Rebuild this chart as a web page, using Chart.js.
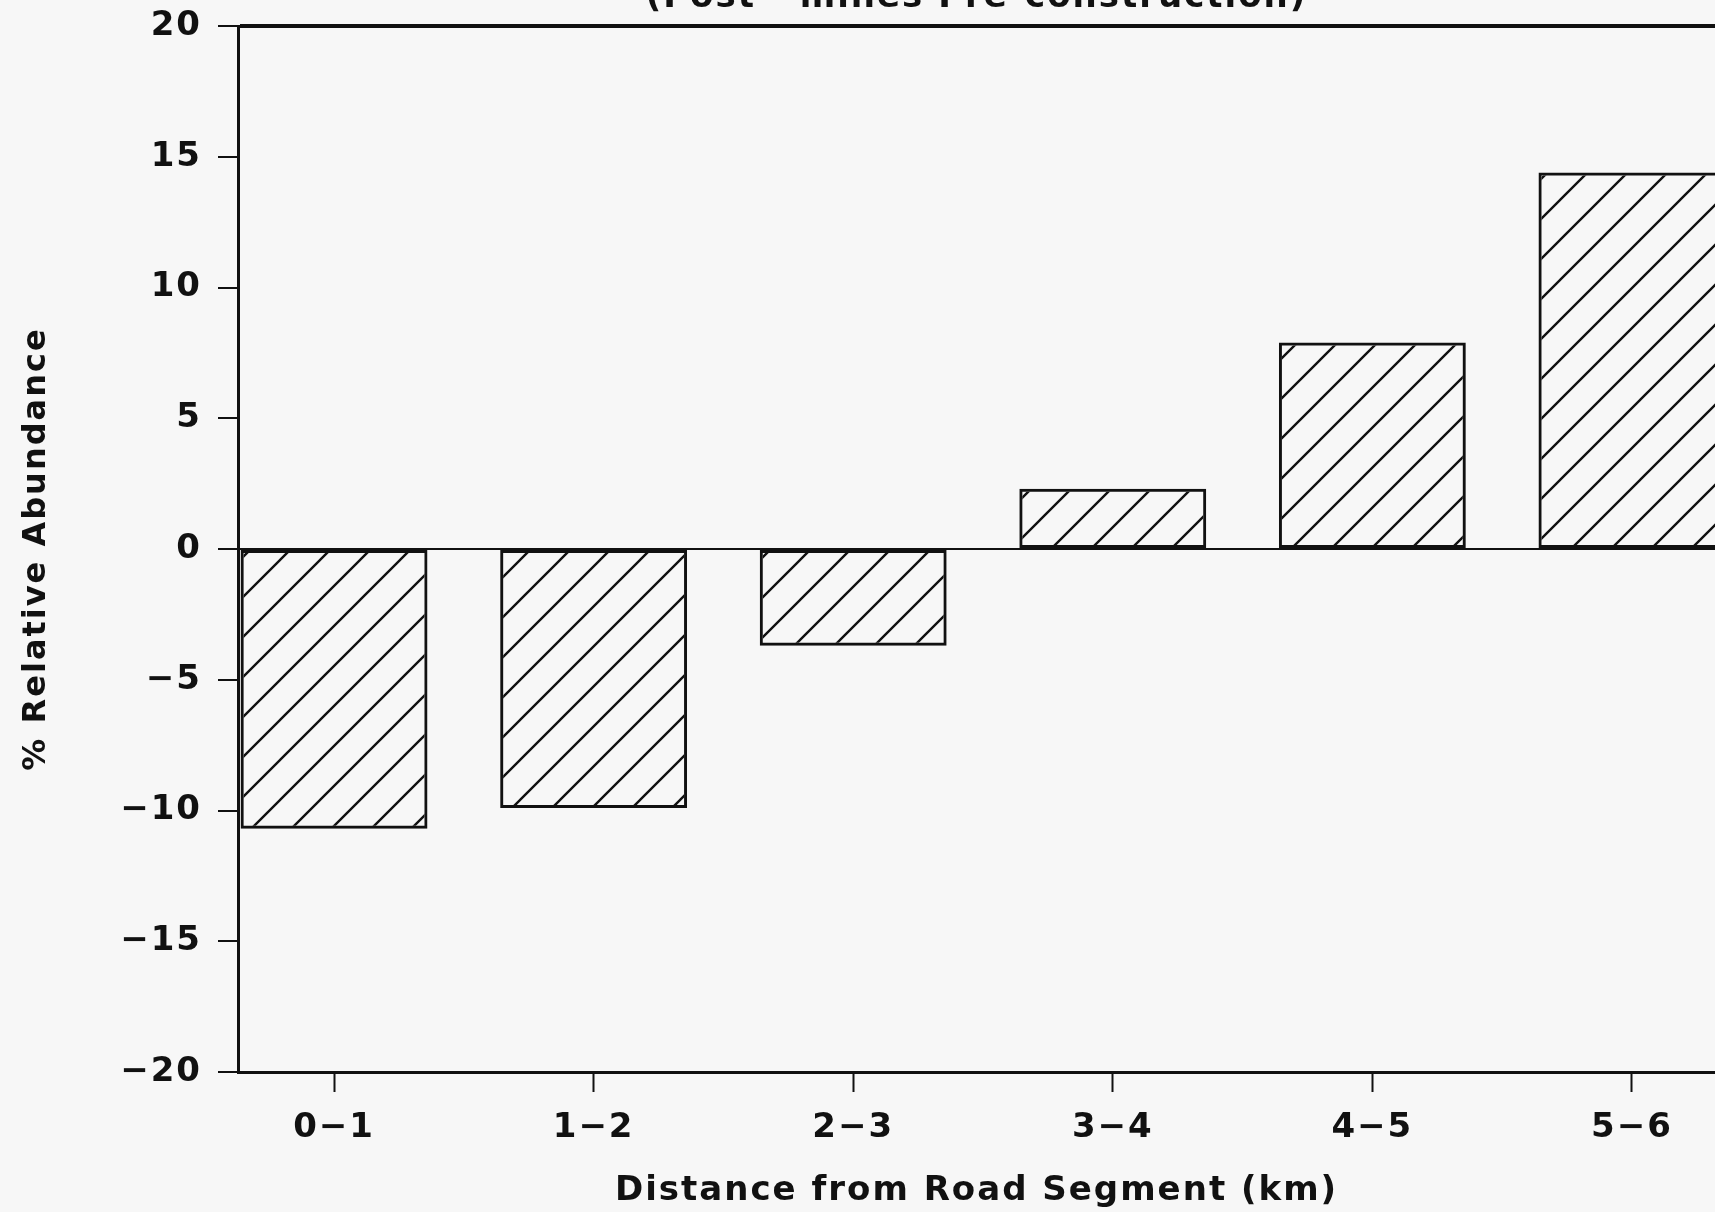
<!DOCTYPE html>
<html>
<head>
<meta charset="utf-8">
<script src="https://cdn.jsdelivr.net/npm/chart.js@4.4.1/dist/chart.umd.min.js"></script>
<style>
  body { margin: 0; background: #f7f7f7; overflow: hidden; }
  canvas { display: block; }
</style>
</head>
<body>
<canvas id="myChart" width="1715" height="1212"></canvas>
<script>
// data
const categories = ["0\u22121", "1\u22122", "2\u22123", "3\u22124", "4\u22125", "5\u22126"];
const abundance = [-10.7, -9.9, -3.7, 2.3, 7.9, 14.4];
const yTicks = [-20, -15, -10, -5, 0, 5, 10, 15, 20];
const titleText = "(Post - mines Pre-construction)";

// diagonal hatching like the original plot
function makeHatch() {
  const s = 40;
  const c = document.createElement("canvas");
  c.width = s;
  c.height = s;
  const g = c.getContext("2d");
  g.strokeStyle = "#111";
  g.lineWidth = 2.4;
  g.beginPath();
  g.moveTo(-5, s + 5); g.lineTo(s + 5, -5);
  g.moveTo(-5, 5); g.lineTo(5, -5);
  g.moveTo(s - 5, s + 5); g.lineTo(s + 5, s - 5);
  g.stroke();
  return g.createPattern(c, "repeat");
}

// the old plotter font is wide, so space the letters a bit
const spacing = {
  id: "spacing",
  beforeInit(chart) { chart.ctx.letterSpacing = "2px"; },
  beforeLayout(chart) { chart.ctx.letterSpacing = "2px"; },
  beforeDraw(chart) { chart.ctx.letterSpacing = "2px"; }
};

// title sits mostly above the cropped scan
const cutTitle = {
  id: "cutTitle",
  afterDraw(chart) {
    const { ctx, chartArea } = chart;
    ctx.save();
    ctx.font = "bold 34px 'DejaVu Sans'";
    ctx.fillStyle = "#111";
    ctx.textAlign = "center";
    ctx.textBaseline = "alphabetic";
    ctx.fillText(titleText, (chartArea.left + chartArea.right) / 2, 7);
    ctx.restore();
  }
};

const ctx = document.getElementById("myChart").getContext("2d");
new Chart(ctx, {
  type: "bar",
  data: {
    datasets: [
      {
        data: abundance.map((v, i) => ({ x: i + 0.5, y: v })),
        backgroundColor: makeHatch(),
        borderColor: "#111",
        borderWidth: 3,
        borderSkipped: false,
        categoryPercentage: 0.72,
        barPercentage: 1
      }
    ]
  },
  options: {
    responsive: false,
    animation: false,
    layout: { padding: { top: 26, right: 0, left: 0, bottom: 0 } },
    plugins: { legend: { display: false }, tooltip: { enabled: false } },
    scales: {
      x: {
        type: "linear",
        min: 0.13,
        max: 5.82,
        offset: false,
        afterBuildTicks: (scale) => {
          scale.ticks = categories.map((c, i) => ({ value: i + 0.5 }));
        },
        afterFit: (scale) => {
          scale.height = 140;
          scale.paddingLeft = 0;
          scale.paddingRight = 0;
        },
        grid: {
          offset: false,
          drawOnChartArea: false,
          drawTicks: true,
          tickLength: 20,
          tickColor: "#111",
          tickWidth: 2
        },
        border: { color: "#111", width: 3 },
        ticks: {
          color: "#111",
          padding: 16,
          maxRotation: 0,
          autoSkip: false,
          font: { family: "DejaVu Sans", size: 34, weight: "bold" },
          callback: (v, i) => categories[i]
        },
        title: {
          display: true,
          text: "Distance from Road Segment (km)",
          color: "#111",
          padding: { top: 0, bottom: 0 },
          font: { family: "DejaVu Sans", size: 34, weight: "bold" }
        }
      },
      y: {
        min: -20,
        max: 20,
        afterBuildTicks: (scale) => {
          scale.ticks = yTicks.map((v) => ({ value: v }));
        },
        afterFit: (scale) => {
          scale.width = 238;
          scale.paddingTop = 0;
          scale.paddingBottom = 0;
        },
        grid: {
          color: (c) => (c.tick && (c.tick.value === 0 || c.tick.value === 20) ? "#111" : "rgba(0,0,0,0)"),
          lineWidth: (c) => (c.tick && c.tick.value === 20 ? 4 : 2),
          tickLength: 20,
          tickColor: "#111",
          tickWidth: 2
        },
        border: { color: "#111", width: 3 },
        ticks: {
          color: "#111",
          padding: 16,
          font: { family: "DejaVu Sans", size: 34, weight: "bold" },
          callback: (v) => String(v).replace("-", "\u2212")
        },
        title: {
          display: true,
          text: "% Relative Abundance",
          color: "#111",
          padding: { top: 17, bottom: 0 },
          font: { family: "DejaVu Sans", size: 32, weight: "bold" }
        }
      }
    }
  },
  plugins: [spacing, cutTitle]
});
</script>
</body>
</html>
